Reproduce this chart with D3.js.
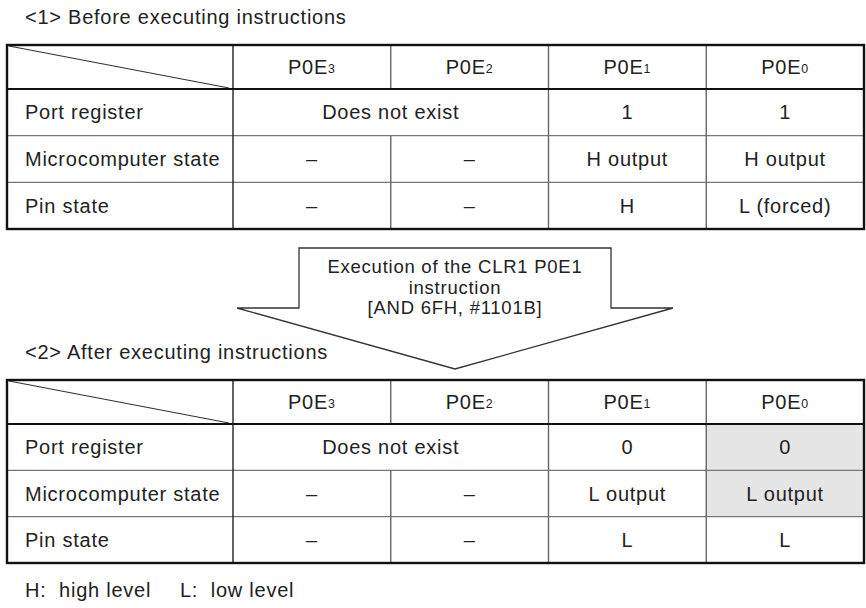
<!DOCTYPE html>
<html><head><meta charset="utf-8">
<script src="https://cdn.jsdelivr.net/npm/d3@7"></script>
<style>
html,body{margin:0;padding:0;background:#fff;}
svg text{font-family:"Liberation Sans",Arial,sans-serif;fill:#222;white-space:pre;}
</style></head>
<body><svg id="c" width="866" height="608"></svg>
<script>
// ---- data ----
const titles = ["<1> Before executing instructions", "<2> After executing instructions"];
const colBase = ["P0E", "P0E", "P0E", "P0E"];
const colSub = ["3", "2", "1", "0"];
const rowLabels = ["Port register", "Microcomputer state", "Pin state"];
const beforeRows = [
  [{t:"Does not exist", span:2}, {t:"1"}, {t:"1"}],
  [{t:"–"}, {t:"–"}, {t:"H output"}, {t:"H output"}],
  [{t:"–"}, {t:"–"}, {t:"H"}, {t:"L (forced)"}]
];
const afterRows = [
  [{t:"Does not exist", span:2}, {t:"0"}, {t:"0", shade:true}],
  [{t:"–"}, {t:"–"}, {t:"L output"}, {t:"L output", shade:true}],
  [{t:"–"}, {t:"–"}, {t:"L"}, {t:"L"}]
];
const arrowLines = ["Execution of the CLR1 P0E1", "instruction", "[AND 6FH, #1101B]"];
const footnote = ["H:  high level", "L:  low level"];

// ---- drawing ----
const svg = d3.select("#c");
const FS = 20, LS = "0.75px";
const left = 7, right = 864, labelW = 226;
const x = d3.scaleLinear().domain([0, colSub.length]).range([left + labelW, right]);

function text(g, str, px, py, anchor, fs) {
  return g.append("text").attr("x", px).attr("y", py).attr("text-anchor", anchor || "middle")
    .attr("dominant-baseline", "central").attr("font-size", fs || FS).attr("letter-spacing", LS).text(str);
}

function drawTable(top, headerBottom, bottom, rows, title, titleY) {
  const g = svg.append("g");
  text(g, title, 25, titleY, "start");
  const y = d3.scaleBand().domain(d3.range(rows.length)).range([headerBottom, bottom]);
  rows.forEach((r, ri) => {
    let ci = 0;
    r.forEach(c => {
      const span = c.span || 1;
      if (c.shade) g.append("rect").attr("x", x(ci)).attr("y", y(ri)).attr("width", x(ci + span) - x(ci))
        .attr("height", y.bandwidth()).attr("fill", "#e5e5e5");
      ci += span;
    });
  });
  d3.range(1, rows.length).forEach(ri => {
    g.append("line").attr("x1", left).attr("x2", right).attr("y1", y(ri)).attr("y2", y(ri))
      .attr("stroke", "#777").attr("stroke-width", 1.3);
  });
  g.append("line").attr("x1", x(0)).attr("x2", x(0)).attr("y1", top).attr("y2", bottom)
    .attr("stroke", "#222").attr("stroke-width", 1.4);
  d3.range(1, colSub.length).forEach(ci => {
    rows.forEach((r, ri) => {
      let c0 = 0, skip = false;
      r.forEach(c => { const s = c.span || 1; if (ci > c0 && ci < c0 + s) skip = true; c0 += s; });
      if (!skip) g.append("line").attr("x1", x(ci)).attr("x2", x(ci)).attr("y1", y(ri)).attr("y2", y(ri) + y.bandwidth())
        .attr("stroke", "#666").attr("stroke-width", 1.4);
    });
    g.append("line").attr("x1", x(ci)).attr("x2", x(ci)).attr("y1", top).attr("y2", headerBottom)
      .attr("stroke", "#666").attr("stroke-width", 1.4);
  });
  g.append("line").attr("x1", left + 2).attr("y1", top + 1).attr("x2", x(0) - 4).attr("y2", headerBottom - 1)
    .attr("stroke", "#333").attr("stroke-width", 1.2);
  g.append("line").attr("x1", left).attr("x2", right).attr("y1", headerBottom).attr("y2", headerBottom)
    .attr("stroke", "#111").attr("stroke-width", 2.2);
  g.append("rect").attr("x", left).attr("y", top).attr("width", right - left).attr("height", bottom - top)
    .attr("fill", "none").attr("stroke", "#111").attr("stroke-width", 2.4);
  colSub.forEach((s, ci) => {
    const t = text(g, "", (x(ci) + x(ci + 1)) / 2, (top + headerBottom) / 2);
    t.append("tspan").text(colBase[ci]);
    t.append("tspan").attr("font-size", FS * 0.62).attr("dy", 2).text(s);
  });
  rowLabels.forEach((l, ri) => text(g, l, 25, y(ri) + y.bandwidth() / 2, "start"));
  rows.forEach((r, ri) => {
    let ci = 0;
    r.forEach(c => {
      const span = c.span || 1;
      text(g, c.t, (x(ci) + x(ci + span)) / 2, y(ri) + y.bandwidth() / 2);
      ci += span;
    });
  });
}

drawTable(45, 89, 229, beforeRows, titles[0], 17);

const cx = 455;
const arrow = [[299, 248], [611, 248], [611, 308], [673, 308], [cx, 369], [237, 308], [299, 308]];
svg.append("path").attr("d", d3.line()(arrow) + "Z").attr("fill", "#fff")
  .attr("stroke", "#333").attr("stroke-width", 1.3);
const ag = svg.append("g");
arrowLines.forEach((l, i) => text(ag, l, cx, 266.5 + i * 20.5, "middle", 18.5));

drawTable(380, 424, 563, afterRows, titles[1], 352);

const fg = svg.append("g");
text(fg, footnote[0], 25, 590, "start");
text(fg, footnote[1], 180, 590, "start");
</script></body></html>
